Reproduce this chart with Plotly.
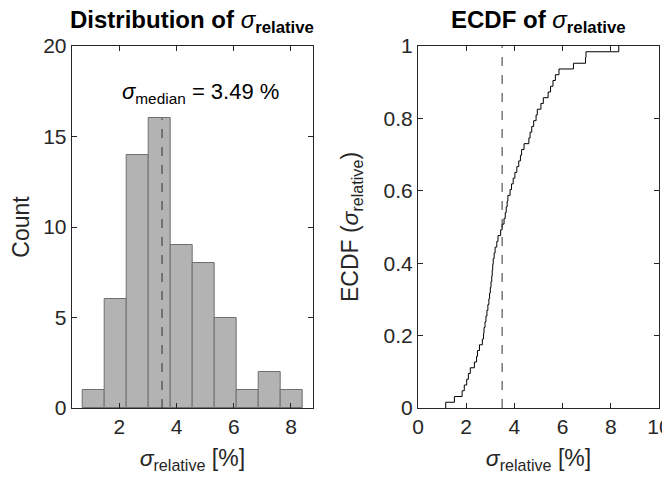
import numpy as np
import plotly.graph_objects as go

sigma_values = [
    1.15,
    1.51, 1.83, 1.92, 2.02, 2.09, 2.17,
    2.34, 2.43, 2.47, 2.55, 2.67, 2.72, 2.74, 2.78, 2.82, 2.86, 2.90, 2.94, 2.97, 3.00,
    3.03, 3.06, 3.08, 3.10, 3.12, 3.16, 3.20, 3.27, 3.32, 3.43, 3.49, 3.57, 3.62, 3.66, 3.70, 3.73,
    3.82, 3.88, 3.95, 4.02, 4.10, 4.18, 4.25, 4.30, 4.40,
    4.60, 4.65, 4.72, 4.80, 4.90, 4.95, 5.10, 5.20,
    5.40, 5.50, 5.60, 5.70, 5.85,
    6.45,
    6.95, 6.97,
    8.33,
]
median_value = 3.49
median_peak_count = 16
bin_start, bin_end, bin_size = 0.70, 8.43, 0.772

left_xticks = [2, 4, 6, 8]
left_yticks = [0, 5, 10, 15, 20]
right_xticks = [0, 2, 4, 6, 8, 10]
right_yticks = [0, 0.2, 0.4, 0.6, 0.8, 1]
right_yticklabels = ["0", "0.2", "0.4", "0.6", "0.8", "1"]

FONT = "Liberation Sans, Arial, sans-serif"
TICK_COLOR = "#262626"
TICK_SIZE = 21
LABEL_SIZE = 23

W, H = 670, 483
OFF = 8  # page body offset
def xd(a, b):
    return [(a - OFF) / W, (b - OFF) / W]
Y_DOM = [(H - (408 - OFF)) / H, (H - (46 - OFF)) / H]
LEFT_DOM = xd(71.7, 313)
RIGHT_DOM = xd(418, 659)
TITLE_Y = (H - 31) / H

xs = np.sort(np.array(sigma_values))
n = len(xs)
ecdf_x = np.concatenate([[xs[0]], xs])
ecdf_y = np.concatenate([[0.0], np.arange(1, n + 1) / n])

fig = go.Figure()

fig.add_trace(go.Histogram(
    x=sigma_values,
    xbins=dict(start=bin_start, end=bin_end, size=bin_size),
    marker=dict(color="#b3b3b3", line=dict(color="#6f6f6f", width=1)),
    xaxis="x", yaxis="y", showlegend=False,
))
fig.add_trace(go.Scatter(
    x=[median_value, median_value], y=[0, median_peak_count],
    mode="lines", line=dict(color="#333333", width=1, dash="dash"),
    xaxis="x", yaxis="y", showlegend=False,
))
fig.add_trace(go.Scatter(
    x=ecdf_x, y=ecdf_y, mode="lines", line=dict(color="black", width=1, shape="hv"),
    xaxis="x2", yaxis="y2", showlegend=False,
))
fig.add_trace(go.Scatter(
    x=[median_value, median_value], y=[0, 1],
    mode="lines", line=dict(color="#333333", width=1, dash="dash"),
    xaxis="x2", yaxis="y2", showlegend=False,
))

ax_common = dict(
    showline=True, linecolor=TICK_COLOR, linewidth=1, mirror="ticks",
    ticks="inside", ticklen=5, tickcolor=TICK_COLOR, showgrid=False, zeroline=False,
    tickfont=dict(family=FONT, size=TICK_SIZE, color=TICK_COLOR), automargin=False,
)
SUB = '<sub style="font-size:%dpx">%s</sub>'
xlabel = "<i>σ</i>" + SUB % (20, "relative") + " [%]"
label_font = dict(family=FONT, size=LABEL_SIZE, color=TICK_COLOR)

fig.update_layout(
    width=W, height=H,
    margin=dict(l=0, r=0, t=0, b=0),
    plot_bgcolor="white", paper_bgcolor="white",
    bargap=0,
    xaxis=dict(domain=LEFT_DOM, range=[0.33, 8.77], tickvals=left_xticks,
               anchor="y", title=dict(text=xlabel, font=label_font, standoff=12),
               **ax_common),
    yaxis=dict(domain=Y_DOM, range=[0, 20], tickvals=left_yticks, anchor="x",
               title=dict(text="Count", font=label_font, standoff=8),
               **ax_common),
    xaxis2=dict(domain=RIGHT_DOM, range=[0, 10], tickvals=right_xticks, anchor="y2",
                title=dict(text=xlabel, font=label_font, standoff=12),
                **ax_common),
    yaxis2=dict(domain=Y_DOM, range=[0, 1], tickvals=right_yticks, ticktext=right_yticklabels,
                anchor="x2",
                title=dict(text="ECDF (<i>σ</i>" + SUB % (20, "relative") + ")", font=label_font, standoff=18),
                **ax_common),
    annotations=[
        dict(text="<b>Distribution of </b><i>σ</i>" + SUB % (18, "<b>relative</b>"), xref="paper", yref="paper",
             x=sum(LEFT_DOM) / 2, y=TITLE_Y, xanchor="center", yanchor="bottom", showarrow=False,
             font=dict(family=FONT, size=24, color="black")),
        dict(text="<b>ECDF of </b><i>σ</i>" + SUB % (18, "<b>relative</b>"), xref="paper", yref="paper",
             x=sum(RIGHT_DOM) / 2, y=TITLE_Y, xanchor="center", yanchor="bottom", showarrow=False,
             font=dict(family=FONT, size=24, color="black")),
        dict(text="<i>σ</i>" + SUB % (18, "median") + " = %.2f %%" % median_value, xref="x", yref="y",
             x=4.83, y=17.4, xanchor="center", yanchor="middle", showarrow=False,
             font=dict(family=FONT, size=22, color="black")),
    ],
)

fig.write_html("out.html")
